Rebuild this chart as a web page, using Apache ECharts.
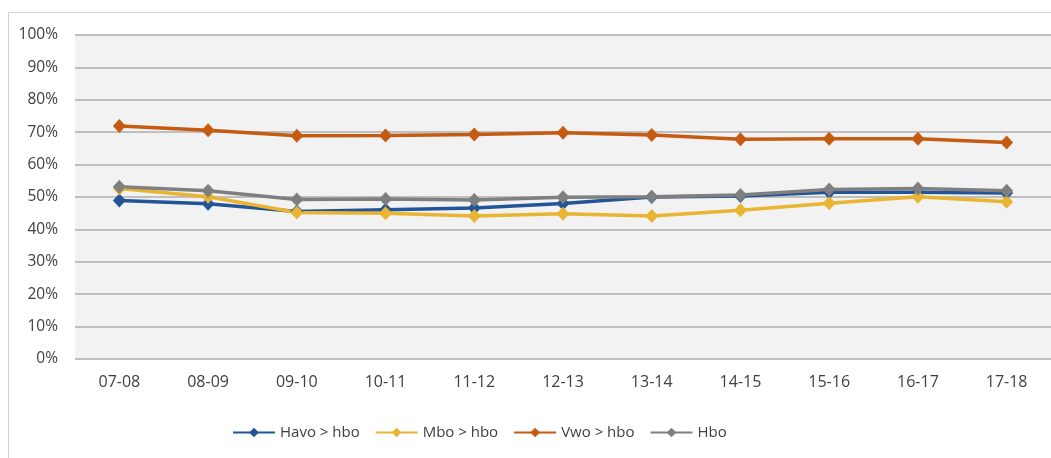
<!DOCTYPE html>
<html>
<head>
<meta charset="utf-8">
<script src="https://cdn.jsdelivr.net/npm/echarts@6/dist/echarts.min.js"></script>
<style>
html,body{margin:0;padding:0;background:#fff;}
#chart{width:1051px;height:458px;}
</style>
</head>
<body>
<div id="chart"></div>
<script>
const categories = ['07-08','08-09','09-10','10-11','11-12','12-13','13-14','14-15','15-16','16-17','17-18'];
const havo = [48.9, 47.9, 45.5, 46.1, 46.6, 48.0, 50.0, 50.3, 51.5, 51.5, 51.2];
const mbo  = [52.6, 50.1, 45.2, 45.0, 44.1, 44.8, 44.1, 45.9, 48.1, 50.1, 48.5];
const vwo  = [71.9, 70.6, 68.9, 69.0, 69.3, 69.8, 69.1, 67.8, 68.0, 68.0, 66.8];
const hbo  = [53.2, 51.9, 49.2, 49.4, 49.1, 49.9, 50.1, 50.6, 52.3, 52.6, 51.9];
const seriesNames = ['Havo > hbo','Mbo > hbo','Vwo > hbo','Hbo'];
const colors = ['#215597','#e8b431','#c55a11','#7f7f7f'];

const font = '"Open Sans", sans-serif';
const chart = echarts.init(document.getElementById('chart'), null, {renderer:'canvas'});
const mk = (name, data, color) => ({
  name, type:'line', data,
  symbol:'diamond', symbolSize:[13,14],
  lineStyle:{width:3.5, color},
  itemStyle:{color},
  emphasis:{disabled:true},
  animation:false
});
chart.setOption({
  animation:false,
  graphic:[{
    type:'rect', shape:{x:8.5, y:12.5, width:1100, height:500},
    style:{fill:'none', stroke:'#d0d0d0', lineWidth:1}, silent:true, z:-10
  }],
  grid:{left:75, top:35, width:979, bottom:99, show:true, backgroundColor:'#f2f2f2', borderWidth:0},
  legend:{
    left:227, top:420, itemWidth:42, itemHeight:12, itemGap:15,
    data:seriesNames,
    textStyle:{fontFamily:font, fontSize:15, color:'#404040'}
  },
  xAxis:{
    type:'category', data:categories, boundaryGap:true,
    axisLine:{show:false}, axisTick:{show:false},
    axisLabel:{fontFamily:font, fontSize:16, color:'#404040', margin:15}
  },
  yAxis:{
    type:'value', min:0, max:100, interval:10,
    axisLabel:{formatter:'{value}%', fontFamily:font, fontSize:15.5, color:'#404040', margin:17},
    axisLine:{show:false}, axisTick:{show:false},
    splitLine:{lineStyle:{color:'#bfbfbf', width:2}}
  },
  series:[
    mk(seriesNames[0], havo, colors[0]),
    mk(seriesNames[1], mbo, colors[1]),
    mk(seriesNames[2], vwo, colors[2]),
    mk(seriesNames[3], hbo, colors[3])
  ]
});
</script>
</body>
</html>
